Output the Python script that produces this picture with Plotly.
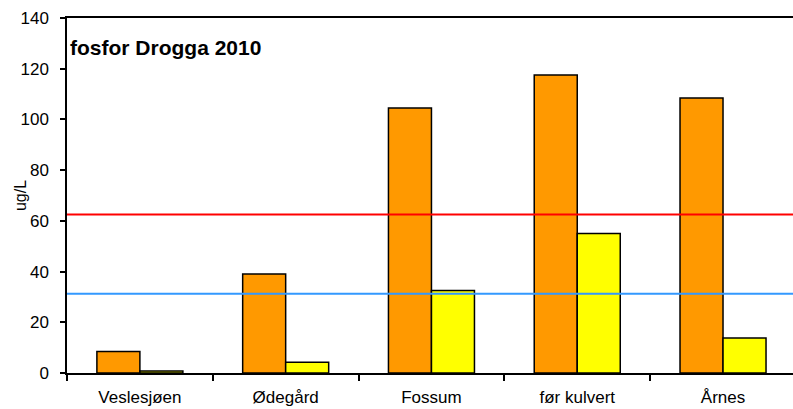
import plotly.graph_objects as go

categories = ["Veslesjøen", "Ødegård", "Fossum", "før kulvert", "Årnes"]
series_a = [8.5, 39, 104.5, 117.5, 108.5]
series_b = [0.8, 4.2, 32.5, 55, 13.8]
limit_red = 62.5
limit_blue = 31.3
y_ticks = [0, 20, 40, 60, 80, 100, 120, 140]

fig = go.Figure()
fig.add_trace(go.Bar(x=categories, y=series_a, marker=dict(color="#FF9900", line=dict(color="#000000", width=1.5)), showlegend=False))
fig.add_trace(go.Bar(x=categories, y=series_b, marker=dict(color="#FFFF00", line=dict(color="#000000", width=1.5)), showlegend=False))

fig.add_shape(type="line", xref="paper", yref="y", x0=0, x1=1, y0=limit_red, y1=limit_red,
              line=dict(color="#FF0000", width=2), layer="above")
fig.add_shape(type="line", xref="paper", yref="y", x0=0, x1=1, y0=limit_blue, y1=limit_blue,
              line=dict(color="#3399FF", width=2), layer="above")

fig.add_annotation(text="<b>fosfor Drogga 2010</b>", xref="paper", yref="paper", x=0.002, y=0.918,
                   xanchor="left", yanchor="middle", showarrow=False,
                   font=dict(family="Liberation Sans, Arial", size=21, color="#000000"))

fig.add_annotation(text="ug/L", xref="paper", yref="paper", x=-0.064, y=0.5,
                   xanchor="center", yanchor="middle", showarrow=False, textangle=-90,
                   font=dict(family="Liberation Sans, Arial", size=16, color="#000000"))

fig.update_layout(
    width=793, height=409,
    margin=dict(l=67, r=0, t=18, b=36),
    paper_bgcolor="white", plot_bgcolor="white",
    barmode="group", bargap=0.41, bargroupgap=0,
    font=dict(family="Liberation Sans, Arial", size=17, color="#000000"),
)
fig.update_xaxes(
    type="category", range=[-0.5, 4.48], automargin=False,
    showline=True, linecolor="#000000", linewidth=1.5, mirror=True,
    ticks="outside", tickson="boundaries", ticklen=6, tickcolor="#000000", tickwidth=1.5,
    showgrid=False, tickfont=dict(size=17), ticklabelstandoff=8,
)
fig.update_yaxes(
    range=[0, 140], tickvals=y_ticks, automargin=False,
    showline=True, linecolor="#000000", linewidth=1.5,
    ticks="outside", ticklen=5, tickcolor="#000000", tickwidth=1.5,
    showgrid=False, zeroline=False, tickfont=dict(size=17), ticklabelstandoff=8,
)

fig.write_html("out.html", config={"displayModeBar": False},
               post_script="document.body.style.margin='0';document.body.style.padding='0';")
